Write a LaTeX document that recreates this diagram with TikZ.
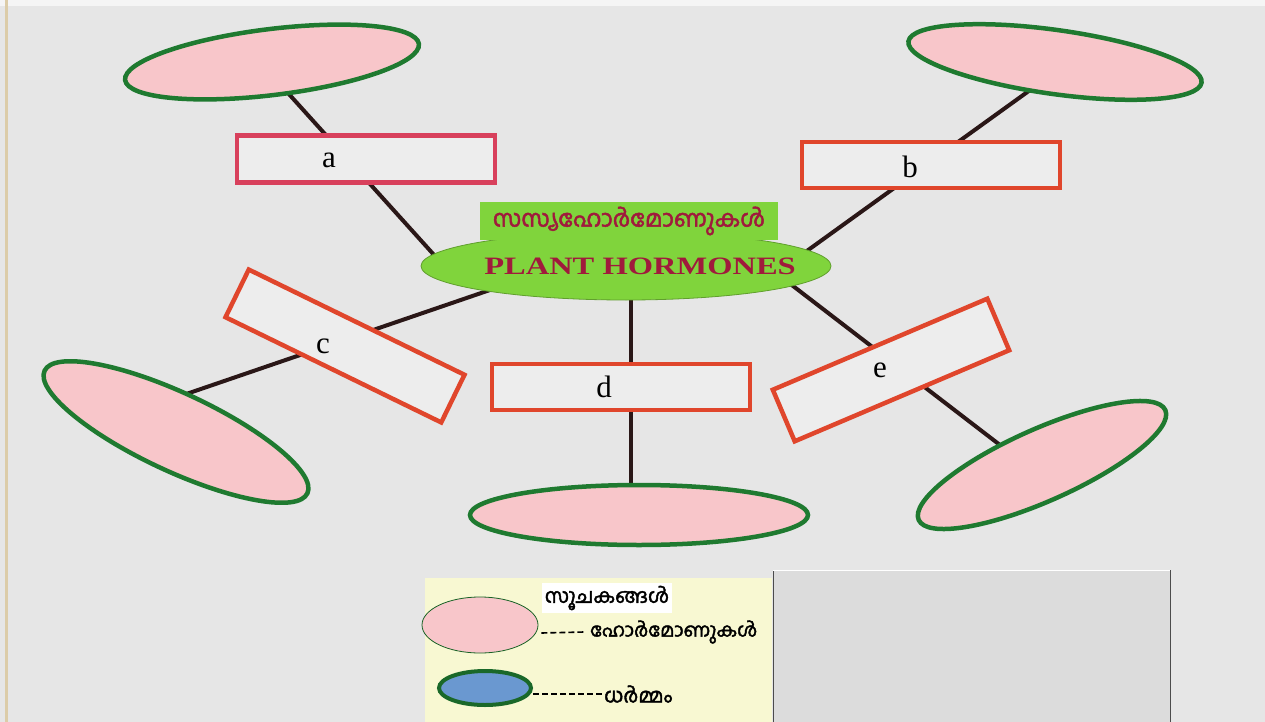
\documentclass[tikz,border=0pt]{standalone}
\usepackage{fontspec}
\setmainfont{Liberation Serif}
\newfontfamily\mlfont[Script=Malayalam,AutoFakeBold=2]{Hind Kochi}
\usetikzlibrary{shapes.geometric,calc,backgrounds}
\definecolor{bgcol}{HTML}{E6E6E6}
\definecolor{pinkfill}{HTML}{F8C6CA}
\definecolor{ellgreen}{HTML}{1F7A30}
\definecolor{hubgreen}{HTML}{80D43C}
\definecolor{boxred}{HTML}{E0462C}
\definecolor{boxrose}{HTML}{D8405C}
\definecolor{boxfill}{HTML}{EDEDED}
\definecolor{linebrown}{HTML}{2A1717}
\definecolor{textred}{HTML}{A01A3C}
\definecolor{legyellow}{HTML}{F8F8D2}
\definecolor{panelgray}{HTML}{DCDCDC}
\definecolor{legblue}{HTML}{6A98D0}
\definecolor{tanedge}{HTML}{DCCCA8}
\begin{document}
\begin{tikzpicture}[x=1pt,y=-1pt,
  horm/.style={ellipse, draw=ellgreen, line width=4.5pt, fill=pinkfill, inner sep=0pt},
  blank/.style={rectangle, draw=boxred, line width=4.5pt, fill=boxfill, inner sep=0pt, minimum width=258pt, minimum height=47pt},
  lbl/.style={font=\fontsize{31}{31}\selectfont, text=black, inner sep=0pt},
  conn/.style={draw=linebrown, line width=4pt},
  mltext/.style={font=\mlfont\bfseries\fontsize{19}{19}\selectfont, inner sep=0pt},
  legdash/.style={line width=1.6pt, dash pattern=on 6pt off 3pt}
]
\useasboundingbox (0,0) rectangle (1265,722);

% hormone ellipses
\node[horm, minimum width=296pt, minimum height=66pt, rotate=7] (ell1) at (272,62) {};
\node[horm, minimum width=296pt, minimum height=64pt, rotate=-8] (ell2) at (1055,62) {};
\node[horm, minimum width=290pt, minimum height=78pt, rotate=-25] (ell3) at (176,432) {};
\node[horm, minimum width=270pt, minimum height=72pt, rotate=24] (ell4) at (1042,465) {};
\node[horm, minimum width=338pt, minimum height=60pt] (ell5) at (639,515) {};

% hub
\node[ellipse, fill=hubgreen, draw=hubgreen!75!black, line width=0.8pt, minimum width=410pt, minimum height=68pt, inner sep=0pt] (hub) at (626,266) {};
\node[fill=hubgreen, minimum width=298pt, minimum height=38pt, inner sep=0pt, text=textred, font=\mlfont\bfseries\fontsize{23.5}{23.5}\selectfont] (title) at (629,221) {സസ്യഹോർമോണുകൾ};
\node[text=textred, inner sep=0pt] (hubtext) at (640,266) {\scalebox{1.3}[1]{\fontsize{25}{25}\selectfont\bfseries PLANT HORMONES}};

% blank boxes
\node[blank, draw=boxrose] (boxa) at (366,159) {};
\node[blank, minimum height=46pt] (boxb) at (931,165) {};
\node[blank, minimum width=240pt, minimum height=53pt, rotate=-26] (boxc) at (345,346) {};
\node[blank, minimum height=46pt] (boxd) at (621,387) {};
\node[blank, minimum width=233pt, minimum height=56pt, rotate=23] (boxe) at (891,370) {};

\node[lbl] (la) at (329,160) {a};
\node[lbl] (lb) at (910,167) {b};
\node[lbl] (lc) at (323,346) {c};
\node[lbl] (ld) at (604,387) {d};
\node[lbl] (le) at (880,370) {e};

% legend
\node[fill=legyellow, anchor=north west, minimum width=347pt, minimum height=144pt, inner sep=0pt] (legend) at (425,578) {};
\node[fill=panelgray, anchor=north west, minimum width=397pt, minimum height=152pt, inner sep=0pt] (panel) at (773,570) {};
\draw[line width=1pt, black!70] (panel.north west) -- (panel.south west);
\draw[line width=1pt, black!70] (panel.north east) -- (panel.south east);
\draw[line width=1pt, white] (panel.north west) -- (panel.north east);

\node[fill=white, inner sep=3pt, font=\mlfont\bfseries\fontsize{20}{20}\selectfont] (legtitle) at (607,598) {സൂചകങ്ങൾ};
\node[ellipse, fill=pinkfill, draw=ellgreen!80!black, line width=0.8pt, minimum width=116pt, minimum height=56pt, inner sep=0pt] (legpink) at (480,625) {};
\node[mltext, anchor=west] (leghorm) at (590,632) {ഹോർമോണുകൾ};
\draw[legdash] ($(legpink.east)+(3,8)$) -- ($(leghorm.west)+(-6,0)$);
\node[ellipse, fill=legblue, draw=ellgreen!85!black, line width=4pt, minimum width=92pt, minimum height=34pt, inner sep=0pt] (legblue) at (485,688) {};
\node[mltext, anchor=west, font=\mlfont\bfseries\fontsize{20}{20}\selectfont] (legfunc) at (604,694) {ധർമ്മം};
\draw[legdash] ($(legblue.east)+(0,6)$) -- (legfunc.west);

% background and connectors
\begin{scope}[on background layer]
\fill[bgcol] (0,0) rectangle (1265,722);
\fill[white!60!bgcol] (0,0) rectangle (1265,6);
\fill[tanedge] (5,0) rectangle (8,722);
\draw[conn] ($(ell1.center)+(-12,0)$) -- ($(hub.center)+(-182,0)$);
\draw[conn] ($(ell2.center)+(14,0)$) -- ($(hub.center)+(160,0)$);
\draw[conn] ($(hub.center)+(-66,0)$) -- ($(ell3.center)+(-16,-29)$);
\draw[conn] ($(hub.center)+(5,0)$) -- ($(ell5.center)+(-8,0)$);
\draw[conn] ($(hub.center)+(141,0)$) -- ($(ell4.center)+(-16,0)$);
\end{scope}
\end{tikzpicture}
\end{document}
